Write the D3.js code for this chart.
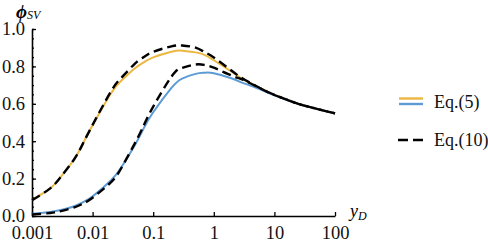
<!DOCTYPE html>
<html>
<head>
<meta charset="utf-8">
<script src="https://cdn.jsdelivr.net/npm/d3@7"></script>
<style>
  body { margin: 0; background: #fff; }
  svg { display: block; font-family: "Liberation Serif", "Times New Roman", serif; }
</style>
</head>
<body>
<div id="chart"></div>
<script>
// values (log x axis, y_D)
const yD = [0.001, 0.002, 0.003, 0.005, 0.007, 0.01, 0.02, 0.03, 0.05, 0.07,
            0.1, 0.2, 0.3, 0.5, 0.7, 1, 2, 3, 5, 7, 10, 20, 30, 50, 70, 100];

// Eq.(5), solid lines
const eq5Upper = [0.085, 0.148, 0.21, 0.305, 0.39, 0.485, 0.655, 0.725, 0.79, 0.822,
                  0.848, 0.878, 0.884, 0.875, 0.862, 0.833, 0.77, 0.732, 0.694, 0.67,
                  0.648, 0.61, 0.592, 0.573, 0.561, 0.549];
const eq5Lower = [0.012, 0.022, 0.032, 0.052, 0.074, 0.105, 0.19, 0.262, 0.38, 0.47,
                  0.555, 0.685, 0.735, 0.76, 0.766, 0.763, 0.735, 0.712, 0.686, 0.666,
                  0.645, 0.609, 0.592, 0.573, 0.561, 0.549];

// Eq.(10), dashed lines
const eq10Upper = [0.085, 0.148, 0.21, 0.305, 0.39, 0.487, 0.665, 0.74, 0.815, 0.85,
                   0.878, 0.907, 0.912, 0.90, 0.877, 0.848, 0.775, 0.735, 0.695, 0.67,
                   0.648, 0.61, 0.592, 0.573, 0.561, 0.549];
const eq10Lower = [0.008, 0.016, 0.026, 0.046, 0.067, 0.098, 0.18, 0.258, 0.39, 0.485,
                   0.585, 0.745, 0.792, 0.81, 0.808, 0.793, 0.75, 0.729, 0.694, 0.67,
                   0.647, 0.61, 0.592, 0.573, 0.561, 0.549];

const xTicks = [0.001, 0.01, 0.1, 1, 10, 100];
const xTickLabels = ["0.001", "0.01", "0.1", "1", "10", "100"];
const yTicks = [0, 0.2, 0.4, 0.6, 0.8, 1.0];
const yMinorTicks = d3.range(0, 21).map(i => i * 0.05);

const legendLabels = ["Eq.(5)", "Eq.(10)"];

const yellow = "#EBB741";
const blue = "#5D9BD5";

// Setup
const width = 488;
const height = 242;

const svg = d3.select("#chart")
    .append("svg")
    .attr("width", width)
    .attr("height", height);

const x = d3.scaleLog()
    .domain([0.001, 100])
    .range([32, 335]);

const y = d3.scaleLinear()
    .domain([0, 1])
    .range([216, 29]);

// Axes (ticks point inward, Mathematica style)
svg.append("g")
    .attr("transform", `translate(0,${y(0)})`)
    .call(d3.axisBottom(x)
        .tickValues(xTicks)
        .tickFormat((d, i) => xTickLabels[i])
        .tickSize(-4)
        .tickSizeOuter(0)
        .tickPadding(10));

const yMinor = svg.append("g")
    .attr("transform", `translate(${x(0.001)},0)`)
    .call(d3.axisLeft(y)
        .tickValues(yMinorTicks)
        .tickFormat("")
        .tickSize(-2)
        .tickSizeOuter(0));
yMinor.select(".domain").remove();

svg.append("g")
    .attr("transform", `translate(${x(0.001)},0)`)
    .call(d3.axisLeft(y)
        .tickValues(yTicks)
        .tickFormat(d3.format(".1f"))
        .tickSize(-4)
        .tickSizeOuter(0)
        .tickPadding(7));

svg.selectAll(".domain").attr("stroke", "#000").attr("stroke-width", 1.6);
svg.selectAll(".tick line").attr("stroke", "#000").attr("stroke-width", 1.3);
svg.selectAll(".tick text")
    .attr("fill", "#111")
    .style("font-size", "18.5px")
    .style("font-family", "'Liberation Serif', 'Times New Roman', serif");

// Axis titles
const yTitle = svg.append("text")
    .attr("x", 16)
    .attr("y", 18)
    .attr("fill", "#000");
yTitle.append("tspan")
    .style("font-size", "19px")
    .style("font-weight", "bold")
    .style("font-style", "italic")
    .text("\u03D5");
yTitle.append("tspan")
    .attr("dy", 1)
    .style("font-size", "12px")
    .style("font-style", "italic")
    .text("SV");

const xTitle = svg.append("text")
    .attr("x", 350)
    .attr("y", 217)
    .attr("fill", "#000");
xTitle.append("tspan")
    .style("font-size", "18px")
    .style("font-style", "italic")
    .text("y");
xTitle.append("tspan")
    .attr("dy", 3)
    .style("font-size", "12px")
    .style("font-style", "italic")
    .text("D");

// Curves
const line = d3.line()
    .x(d => x(d[0]))
    .y(d => y(d[1]))
    .curve(d3.curveNatural);

const series = [
  {values: eq5Upper, color: yellow, dash: null, width: 2},
  {values: eq5Lower, color: blue, dash: null, width: 2},
  {values: eq10Upper, color: "#000", dash: "9,5", width: 2.4},
  {values: eq10Lower, color: "#000", dash: "9,5", width: 2.4}
];

svg.append("g")
  .selectAll("path")
  .data(series)
  .join("path")
    .attr("d", s => line(yD.map((v, i) => [v, s.values[i]])))
    .attr("fill", "none")
    .attr("stroke", s => s.color)
    .attr("stroke-width", s => s.width)
    .attr("stroke-dasharray", s => s.dash);

// Legend
const legend = svg.append("g");

legend.append("line")
    .attr("x1", 399).attr("x2", 423)
    .attr("y1", 98.5).attr("y2", 98.5)
    .attr("stroke", yellow).attr("stroke-width", 2.4);
legend.append("line")
    .attr("x1", 399).attr("x2", 423)
    .attr("y1", 104).attr("y2", 104)
    .attr("stroke", blue).attr("stroke-width", 2.4);
legend.append("line")
    .attr("x1", 398).attr("x2", 423)
    .attr("y1", 140).attr("y2", 140)
    .attr("stroke", "#000").attr("stroke-width", 2.4)
    .attr("stroke-dasharray", "10,5");

legend.selectAll("text")
  .data(legendLabels)
  .join("text")
    .attr("x", 434)
    .attr("y", (d, i) => i === 0 ? 108 : 146)
    .attr("fill", "#111")
    .style("font-size", "18px")
    .text(d => d);
</script>
</body>
</html>
